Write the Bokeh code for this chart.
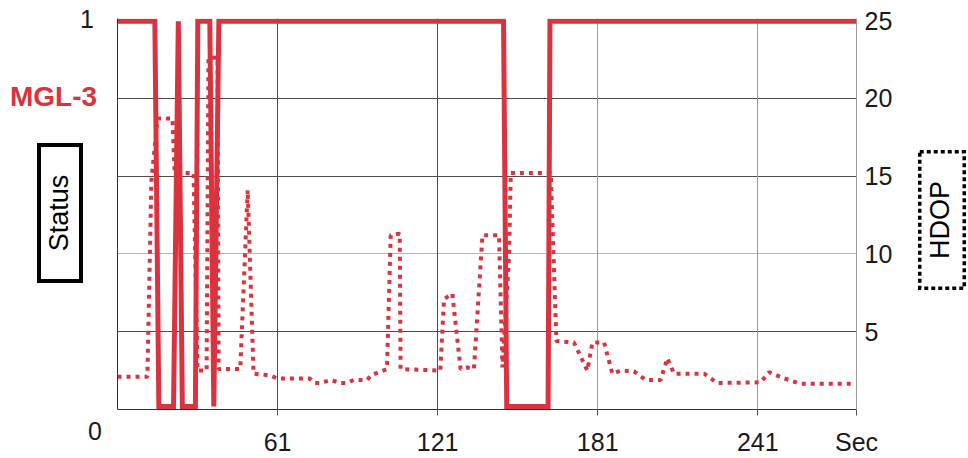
from bokeh.plotting import figure
from bokeh.layouts import row
from bokeh.models import Range1d, LinearAxis, FixedTicker, Grid, Div
from bokeh.embed import file_html
from bokeh.resources import INLINE

# ---- data ----
status_t = [1, 15, 16.5, 22, 23.8, 25.3, 30.2, 31.1, 35.6, 37.1, 39,
            145.7, 146.9, 162.4, 163.1, 278]
status_v = [1, 1, 0, 0, 1, 0, 0, 1, 1, 0, 1,
            1, 0, 0, 1, 1]

hdop_t = [1, 12.2, 13.7, 16, 21.6, 22.4, 29.5, 31, 34.4, 35.1,
          38.5, 38.9, 47, 49.8, 52, 58, 61, 73, 75, 77,
          81, 84.6, 87, 89.5, 94.6, 96, 102, 103.4, 106.8, 107.1,
          122, 123.4, 126.5, 129.6, 132.1, 134.6, 137.8, 144, 145.3, 147.8,
          148.4, 163.4, 165.5, 172.1, 177.1, 179, 183.4, 186.5, 189.6, 194.6,
          199, 204.6, 207.1, 209.6, 220.9, 225.9, 242.1, 245.2, 250.9, 257.1,
          276]
hdop_v = [2.1, 2.1, 14.7, 18.7, 18.7, 15.2, 15.2, 2.5, 2.5, 22.6,
          22.6, 2.6, 2.6, 14.1, 2.3, 2.2, 2.0, 2.0, 1.7, 1.7,
          1.9, 1.7, 1.7, 1.9, 1.9, 2.2, 2.6, 11.2, 11.3, 2.6,
          2.5, 7.1, 7.45, 2.6, 2.7, 2.6, 11.2, 11.2, 2.7, 10.0,
          15.2, 15.2, 4.4, 4.3, 2.5, 4.3, 4.3, 2.3, 2.5, 2.45,
          1.9, 1.9, 3.3, 2.3, 2.3, 1.7, 1.75, 2.4, 2.0, 1.65,
          1.65]

x_ticks = [61, 121, 181, 241, 278]
x_tick_labels = {278: "Sec"}
hdop_ticks = [5, 10, 15, 20, 25]
status_top_label = "1"
status_bottom_label = "0"
series_name = "MGL-3"
left_title = "Status"
right_title = "HDOP"

RED = "#d9333f"
FONT = "Liberation Sans"
TXT = "#1a1a1a"
H = 458
LEFT_W = 105
RIGHT_W = 63
MAIN_W = 968 - LEFT_W - RIGHT_W

# ---------- main chart ----------
p = figure(width=MAIN_W, height=H,
           x_range=Range1d(1, 278), y_range=Range1d(-0.0078, 1.0073),
           output_backend="svg", toolbar_location=None,
           min_border_left=12, min_border_right=MAIN_W - 12 - 739,
           min_border_top=18, min_border_bottom=49,
           outline_line_color=None)
p.extra_y_ranges = {"hdop": Range1d(0, 25.13)}
p.xgrid.grid_line_color = None
p.ygrid.grid_line_color = None

p.add_layout(Grid(dimension=1, ticker=FixedTicker(ticks=[5, 15, 20]), y_range_name="hdop",
                  grid_line_color="#4d4d4d", grid_line_width=1))
p.add_layout(Grid(dimension=1, ticker=FixedTicker(ticks=[10]), y_range_name="hdop",
                  grid_line_color="#b5b5b5", grid_line_width=1))
p.add_layout(Grid(dimension=0, ticker=FixedTicker(ticks=[61, 121]),
                  grid_line_color="#4d4d4d", grid_line_width=1))
p.add_layout(Grid(dimension=0, ticker=FixedTicker(ticks=[181, 241]),
                  grid_line_color="#9a9a9a", grid_line_width=1))

xa = p.xaxis[0]
xa.ticker = FixedTicker(ticks=x_ticks)
xa.major_label_overrides = x_tick_labels
xa.axis_line_color = "#333333"
xa.major_tick_line_color = "#555555"
xa.major_tick_out = 6
xa.major_tick_in = 0
xa.minor_tick_line_color = None
xa.major_label_standoff = 12
xa.major_label_text_font = FONT
xa.major_label_text_font_size = "25px"
xa.major_label_text_color = TXT

ya = p.yaxis[0]
ya.ticker = FixedTicker(ticks=[])
ya.axis_line_color = "#333333"
ya.major_tick_line_color = None
ya.minor_tick_line_color = None
ya.major_tick_out = 0
ya.major_label_standoff = 0
ya.major_label_text_font_size = "0px"

ra = LinearAxis(y_range_name="hdop", ticker=FixedTicker(ticks=hdop_ticks),
                axis_line_color="#9a9a9a", major_tick_line_color=None,
                minor_tick_line_color=None, major_tick_out=0, major_tick_in=0,
                major_label_standoff=8,
                major_label_text_font=FONT, major_label_text_font_size="25px",
                major_label_text_color=TXT)
p.add_layout(ra, "right")

p.line(hdop_t, hdop_v, y_range_name="hdop", line_color=RED, line_width=4,
       line_dash="4 5")
p.line(status_t, status_v, line_color=RED, line_width=5, line_join="miter")

# ---------- side panels (labels outside the plot frame) ----------
left_svg = f"""
<svg xmlns="http://www.w3.org/2000/svg" width="{LEFT_W}" height="{H}"
     style="display:block;font-family:'{FONT}',Arial,sans-serif">
  <text x="10" y="106" font-size="28" font-weight="bold" fill="{RED}">{series_name}</text>
  <text x="87" y="28" font-size="25" fill="{TXT}" text-anchor="middle">{status_top_label}</text>
  <text x="95" y="440" font-size="25" fill="{TXT}" text-anchor="middle">{status_bottom_label}</text>
  <rect x="39" y="145" width="42" height="136" fill="white" stroke="black" stroke-width="4"/>
  <text transform="translate(68,213) rotate(-90)" font-size="27" fill="black"
        text-anchor="middle">{left_title}</text>
</svg>
"""
right_svg = f"""
<svg xmlns="http://www.w3.org/2000/svg" width="{RIGHT_W}" height="{H}"
     style="display:block;font-family:'{FONT}',Arial,sans-serif">
  <rect x="14.75" y="151.75" width="44.5" height="136.5" fill="white" stroke="black"
        stroke-width="3.5" stroke-dasharray="4 3"/>
  <text transform="translate(44,220) rotate(-90)" font-size="27" fill="black"
        text-anchor="middle">{right_title}</text>
</svg>
"""
left = Div(text=left_svg, width=LEFT_W, height=H, margin=0)
right = Div(text=right_svg, width=RIGHT_W, height=H, margin=0)

layout = row(left, p, right, spacing=0)
open("out.html", "w").write(file_html(layout, INLINE))
